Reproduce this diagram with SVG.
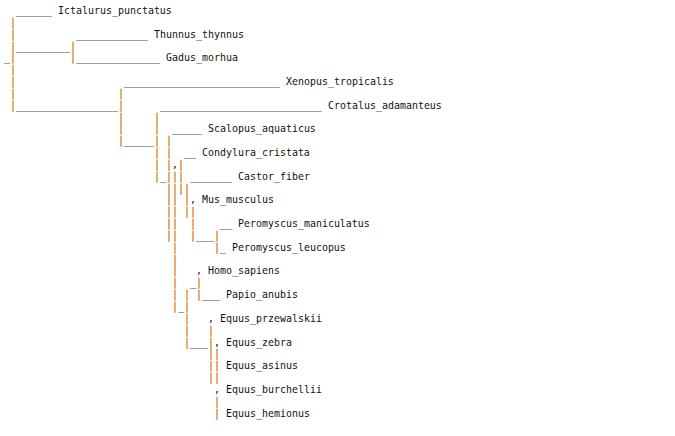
<svg xmlns="http://www.w3.org/2000/svg" width="675" height="436" viewBox="0 0 675 436">
<style>
text{font-family:"DejaVu Sans Mono","Liberation Mono",monospace;font-size:9.966px;fill:#111;}
.b{fill:#d8821e;stroke:#d8821e;stroke-width:0.35px;}
</style>
<rect width="675" height="436" fill="#fff"/>
<g id="connectors">
<text y="14"><tspan x="16">______</tspan></text>
<text y="25.84"><tspan class="b" x="10">|</tspan></text>
<text y="37.68"><tspan class="b" x="10">|</tspan><tspan x="76">____________</tspan></text>
<text y="49.52"><tspan class="b" x="10">|</tspan><tspan x="16">_________</tspan><tspan class="b" x="70">|</tspan></text>
<text y="61.36"><tspan x="4">_</tspan><tspan class="b" x="10">|</tspan><tspan class="b" x="70">|</tspan><tspan x="76">______________</tspan></text>
<text y="73.2"><tspan class="b" x="10">|</tspan></text>
<text y="85.04"><tspan class="b" x="10">|</tspan><tspan x="124">__________________________</tspan></text>
<text y="96.88"><tspan class="b" x="10">|</tspan><tspan class="b" x="118">|</tspan></text>
<text y="108.72"><tspan class="b" x="10">|</tspan><tspan x="16">_________________</tspan><tspan class="b" x="118">|</tspan><tspan x="160">___________________________</tspan></text>
<text y="120.56"><tspan class="b" x="118">|</tspan><tspan class="b" x="154">|</tspan></text>
<text y="132.4"><tspan class="b" x="118">|</tspan><tspan class="b" x="154">|</tspan><tspan x="172">_____</tspan></text>
<text y="144.24"><tspan class="b" x="118">|</tspan><tspan x="124">_____</tspan><tspan class="b" x="154">|</tspan><tspan class="b" x="166">|</tspan></text>
<text y="156.08"><tspan class="b" x="154">|</tspan><tspan class="b" x="166">|</tspan><tspan x="184">__</tspan></text>
<text y="167.92"><tspan class="b" x="154">|</tspan><tspan class="b" x="166">|</tspan><tspan x="172">,</tspan><tspan class="b" x="178">|</tspan></text>
<text y="179.76"><tspan class="b" x="154">|</tspan><tspan x="160">_</tspan><tspan class="b" x="166">|||</tspan><tspan x="190">_______</tspan></text>
<text y="191.6"><tspan class="b" x="166">||||</tspan></text>
<text y="203.44"><tspan class="b" x="166">||</tspan><tspan class="b" x="184">|</tspan><tspan x="190">,</tspan></text>
<text y="215.28"><tspan class="b" x="166">||</tspan><tspan class="b" x="184">||</tspan></text>
<text y="227.12"><tspan class="b" x="166">||</tspan><tspan class="b" x="190">|</tspan><tspan x="220">__</tspan></text>
<text y="238.96"><tspan class="b" x="166">||</tspan><tspan class="b" x="190">|</tspan><tspan x="196">___</tspan><tspan class="b" x="214">|</tspan></text>
<text y="250.8"><tspan class="b" x="172">|</tspan><tspan class="b" x="214">|</tspan><tspan x="220">_</tspan></text>
<text y="262.64"><tspan class="b" x="172">|</tspan></text>
<text y="274.48"><tspan class="b" x="172">|</tspan><tspan x="196">,</tspan></text>
<text y="286.32"><tspan class="b" x="172">|</tspan><tspan x="190">_</tspan><tspan class="b" x="196">|</tspan></text>
<text y="298.16"><tspan class="b" x="172">|</tspan><tspan class="b" x="184">|</tspan><tspan class="b" x="196">|</tspan><tspan x="202">___</tspan></text>
<text y="310"><tspan class="b" x="172">|</tspan><tspan x="178">_</tspan><tspan class="b" x="184">|</tspan></text>
<text y="321.84"><tspan class="b" x="184">|</tspan><tspan x="208">,</tspan></text>
<text y="333.68"><tspan class="b" x="184">|</tspan><tspan class="b" x="208">|</tspan></text>
<text y="345.52"><tspan class="b" x="184">|</tspan><tspan x="190">___</tspan><tspan class="b" x="208">|</tspan><tspan x="214">,</tspan></text>
<text y="357.36"><tspan class="b" x="208">||</tspan></text>
<text y="369.2"><tspan class="b" x="208">||</tspan></text>
<text y="381.04"><tspan class="b" x="208">||</tspan></text>
<text y="392.88"><tspan x="214">,</tspan></text>
<text y="404.72"><tspan class="b" x="214">|</tspan></text>
<text y="416.56"><tspan class="b" x="214">|</tspan></text>
</g>
<g id="node-Ictalurus_punctatus"><text x="58" y="14">Ictalurus_punctatus</text></g>
<g id="node-Thunnus_thynnus"><text x="154" y="37.68">Thunnus_thynnus</text></g>
<g id="node-Gadus_morhua"><text x="166" y="61.36">Gadus_morhua</text></g>
<g id="node-Xenopus_tropicalis"><text x="286" y="85.04">Xenopus_tropicalis</text></g>
<g id="node-Crotalus_adamanteus"><text x="328" y="108.72">Crotalus_adamanteus</text></g>
<g id="node-Scalopus_aquaticus"><text x="208" y="132.4">Scalopus_aquaticus</text></g>
<g id="node-Condylura_cristata"><text x="202" y="156.08">Condylura_cristata</text></g>
<g id="node-Castor_fiber"><text x="238" y="179.76">Castor_fiber</text></g>
<g id="node-Mus_musculus"><text x="202" y="203.44">Mus_musculus</text></g>
<g id="node-Peromyscus_maniculatus"><text x="238" y="227.12">Peromyscus_maniculatus</text></g>
<g id="node-Peromyscus_leucopus"><text x="232" y="250.8">Peromyscus_leucopus</text></g>
<g id="node-Homo_sapiens"><text x="208" y="274.48">Homo_sapiens</text></g>
<g id="node-Papio_anubis"><text x="226" y="298.16">Papio_anubis</text></g>
<g id="node-Equus_przewalskii"><text x="220" y="321.84">Equus_przewalskii</text></g>
<g id="node-Equus_zebra"><text x="226" y="345.52">Equus_zebra</text></g>
<g id="node-Equus_asinus"><text x="226" y="369.2">Equus_asinus</text></g>
<g id="node-Equus_burchellii"><text x="226" y="392.88">Equus_burchellii</text></g>
<g id="node-Equus_hemionus"><text x="226" y="416.56">Equus_hemionus</text></g>
</svg>
